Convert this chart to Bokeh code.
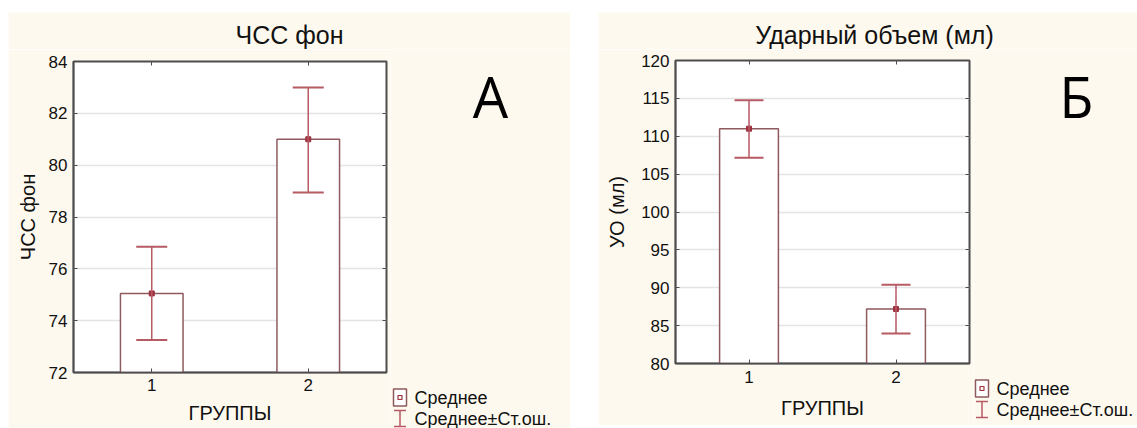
from bokeh.plotting import figure
from bokeh.models import (Whisker, TeeHead, ColumnDataSource, FixedTicker, Range1d,
                          LinearAxis, Spacer)
from bokeh.core.properties import value
from bokeh.layouts import row, column
from bokeh.embed import file_html
from bokeh.resources import INLINE

# ---- data ----
groups = [1, 2]
group_labels = ["1", "2"]
hr_mean = [75.05, 81.0]
hr_lo = [73.25, 78.95]
hr_hi = [76.85, 83.0]
hr_ticks = [72, 74, 76, 78, 80, 82, 84]
sv_mean = [111.0, 87.2]
sv_lo = [107.15, 83.95]
sv_hi = [114.75, 90.4]
sv_ticks = [80, 85, 90, 95, 100, 105, 110, 115, 120]
legend_labels = ["Среднее", "Среднее±Ст.ош."]
titles = ["ЧСС фон", "Ударный объем (мл)"]

CREAM = "#FEF9EE"
BAR_LINE = "#8E5A5E"
ERR = "#B65A63"
MEAN = "#9E3040"
FRAME = "#4D4D4D"
FONT = "Liberation Sans"


def panel(ylabel, mean, lo, hi, yticks, g):
    p = figure(width=g["w"], height=g["h"], output_backend="svg", toolbar_location=None,
               x_range=Range1d(0.5, 2.5), y_range=Range1d(yticks[0], yticks[-1]),
               min_border_left=g["bl"], min_border_right=g["br"],
               min_border_top=g["bt"], min_border_bottom=g["bb"])
    p.background_fill_color = "white"
    p.border_fill_color = CREAM
    p.outline_line_color = FRAME
    p.outline_line_width = 2

    p.xaxis.ticker = FixedTicker(ticks=groups)
    p.xaxis.major_label_overrides = {gv: gl for gv, gl in zip(groups, group_labels)}
    p.yaxis.ticker = FixedTicker(ticks=yticks)
    p.xaxis.axis_label = "ГРУППЫ"
    p.yaxis.axis_label = ylabel
    for ax in (p.xaxis[0], p.yaxis[0]):
        ax.axis_line_color = FRAME
        ax.axis_line_width = 1.5
        ax.major_tick_in = 4
        ax.major_tick_out = 0
        ax.major_tick_line_color = FRAME
        ax.minor_tick_line_color = None
        ax.major_label_text_font = FONT
        ax.major_label_text_font_size = "17px"
        ax.major_label_text_color = "#111111"
        ax.axis_label_text_font = FONT
        ax.axis_label_text_font_size = "20px"
        ax.axis_label_text_font_style = "normal"
        ax.axis_label_text_color = "#111111"
    p.xaxis.major_label_standoff = g["xs"]
    p.xaxis.axis_label_standoff = g["xls"]
    p.yaxis.major_label_standoff = 6
    p.yaxis.axis_label_standoff = g["ylstand"]

    # inward ticks on the right and top edges (no labels)
    for loc, tk in (("right", yticks), ("above", groups)):
        ax = LinearAxis(ticker=FixedTicker(ticks=tk), major_tick_in=4, major_tick_out=0,
                        major_tick_line_color=FRAME, minor_tick_line_color=None,
                        axis_line_color=None, major_label_text_color=None,
                        major_label_text_font_size="1px", major_label_standoff=0)
        p.add_layout(ax, loc)

    p.xgrid.grid_line_color = None
    p.ygrid.ticker = FixedTicker(ticks=yticks)
    p.ygrid.grid_line_color = "#E4E4E4"
    p.ygrid.grid_line_width = 1.5

    src = ColumnDataSource(dict(x=groups, mean=mean, lo=lo, hi=hi))
    p.vbar(x="x", top="mean", bottom=yticks[0], width=0.4, source=src,
           fill_color="white", line_color=BAR_LINE, line_width=1.5)
    w = Whisker(base="x", lower="lo", upper="hi", source=src, line_color=ERR, line_width=1.5,
                level="overlay",
                upper_head=TeeHead(size=g["cap"], line_color=ERR, line_width=2),
                lower_head=TeeHead(size=g["cap"], line_color=ERR, line_width=2))
    p.add_layout(w)
    p.scatter("x", "mean", source=src, marker="square", size=5,
              fill_color=MEAN, line_color=MEAN)
    return p


def strip(x0, x1, y0, y1):
    """Cream drawing strip whose ranges are page pixels (y downward)."""
    q = figure(width=x1 - x0, height=y1 - y0, output_backend="svg", toolbar_location=None,
               x_range=Range1d(x0, x1), y_range=Range1d(y1, y0),
               x_axis_type=None, y_axis_type=None, min_border=0)
    q.grid.visible = False
    q.outline_line_color = None
    q.background_fill_color = CREAM
    q.border_fill_color = CREAM
    return q


def title_strip(text, x0, x1, cx):
    t = strip(x0, x1, 12, 49)
    t.text(x=[cx], y=[34.5], text=[text], text_font=value(FONT), text_font_size="25px",
           text_align="center", text_baseline="middle", text_color="#111111")
    return t


def side(letter, s):
    q = strip(s["x0"], s["x1"], 49, s["y1"])
    q.text(x=[s["lx"]], y=[95], text=[letter], text_font=value("Open Sans"),
           text_font_size="56px", text_align="center", text_baseline="middle",
           text_color="#000000")
    gx, r1 = s["gx"], s["r1"]
    r2 = r1 + 21
    # symbol: mean (box with a dot)
    q.rect(x=[gx], y=[r1], width=13, height=17, fill_color="white",
           line_color=BAR_LINE, line_width=1.5)
    q.scatter(x=[gx], y=[r1], marker="square", size=4, fill_color=CREAM,
              line_color=MEAN, line_width=1.2)
    # symbol: mean ± s.e. (I-beam)
    q.segment(x0=[gx, gx - 6, gx - 6], y0=[r2 - 8, r2 - 8, r2 + 8],
              x1=[gx, gx + 6, gx + 6], y1=[r2 + 8, r2 - 8, r2 + 8],
              line_color=ERR, line_width=1.5)
    q.text(x=[s["tx"], s["tx"]], y=[r1, r2], text=legend_labels,
           text_font=value(FONT), text_font_size="18px", text_baseline="middle",
           text_color="#111111")
    return q


g1 = dict(w=382, h=379, bl=65, br=4, bt=12, bb=56, ylstand=7, cap=31, xs=6, xls=8)
g2 = dict(w=375, h=376, bl=77, br=4, bt=11, bb=62, ylstand=10, cap=29, xs=7, xls=11)
s1 = dict(x0=390, x1=570, y1=428, lx=490, gx=399.5, r1=397, tx=414)
s2 = dict(x0=973, x1=1137, y1=425, lx=1076, gx=981.5, r1=388, tx=996)

p1 = panel("ЧСС фон", hr_mean, hr_lo, hr_hi, hr_ticks, g1)
p2 = panel("УО (мл)", sv_mean, sv_lo, sv_hi, sv_ticks, g2)
q1 = side("А", s1)
q2 = side("Б", s2)
t1 = title_strip(titles[0], 8, 570, 289)
t2 = title_strip(titles[1], 598, 1137, 874)

layout = column(Spacer(height=12),
                row(Spacer(width=8),
                    column(t1, row(column(p1), column(q1))),
                    Spacer(width=28),
                    column(t2, row(column(p2), column(q2)))))

open("out.html", "w").write(file_html(layout, INLINE))
